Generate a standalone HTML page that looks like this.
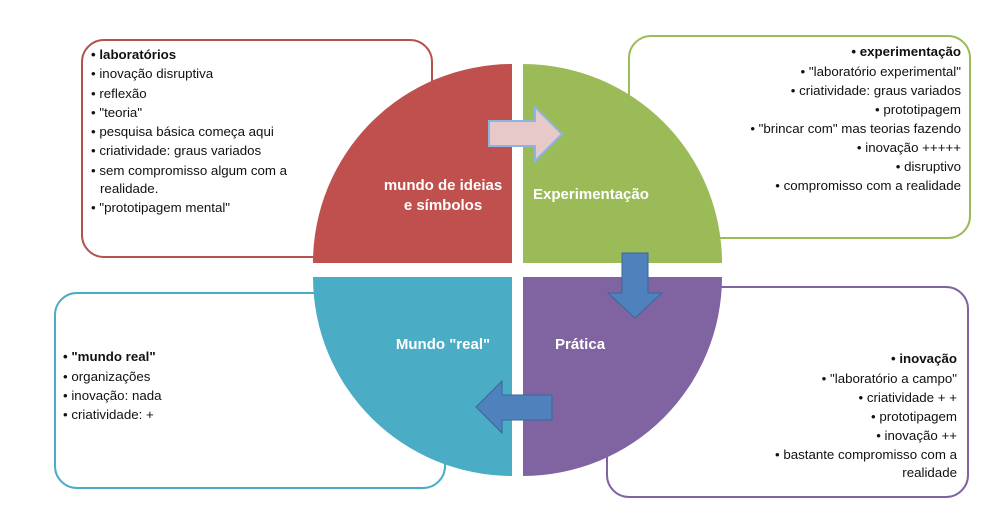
<!DOCTYPE html>
<html><head><meta charset="utf-8"><style>
html,body{margin:0;padding:0;background:#fff;}
svg text{font-family:"Liberation Sans",sans-serif;font-size:13.3px;fill:#111;}
svg .b{font-weight:bold;}
svg .w{fill:#fff;font-weight:bold;font-size:15px;}
</style></head><body>
<svg width="1000" height="500" viewBox="0 0 1000 500" xmlns="http://www.w3.org/2000/svg">
<rect x="82" y="40" width="350" height="217" rx="22" fill="#fff" stroke="#b5524f" stroke-width="2"/>
<rect x="629" y="36" width="341" height="202" rx="22" fill="#fff" stroke="#9bbb59" stroke-width="2"/>
<rect x="55" y="293" width="390" height="195" rx="22" fill="#fff" stroke="#4bacc6" stroke-width="2"/>
<rect x="607" y="287" width="361" height="210" rx="22" fill="#fff" stroke="#8064a2" stroke-width="2"/>
<path d="M512,263 L313,263 A199,199 0 0 1 512,64 Z" fill="#c0504d"/>
<path d="M523,263 L523,64 A199,199 0 0 1 722,263 Z" fill="#9bbb59"/>
<path d="M512,277 L512,476 A199,199 0 0 1 313,277 Z" fill="#4bacc6"/>
<path d="M523,277 L722,277 A199,199 0 0 1 523,476 Z" fill="#8064a2"/>
<path d="M489,121 L535,121 L535,107 L562,134 L535,161 L535,146 L489,146 Z" fill="#e6c9c8" stroke="#8eb4e3" stroke-width="2"/>
<path d="M622,253 L648,253 L648,293 L662,293 L635,318 L608,293 L622,293 Z" fill="#4f81bd" stroke="#3a6699" stroke-width="1"/>
<path d="M552,395 L552,420 L502,420 L502,433 L476,407 L502,381 L502,395 Z" fill="#4f81bd" stroke="#3a6699" stroke-width="1"/>
<text class="w" x="443" y="190" text-anchor="middle">mundo de ideias</text>
<text class="w" x="443" y="210" text-anchor="middle">e símbolos</text>
<text class="w" x="533" y="199">Experimentação</text>
<text class="w" x="443" y="349" text-anchor="middle">Mundo "real"</text>
<text class="w" x="555" y="349">Prática</text>
<g>
<text x="91" y="59" class="b">• laboratórios</text>
<text x="91" y="78">• inovação disruptiva</text>
<text x="91" y="98">• reflexão</text>
<text x="91" y="117">• "teoria"</text>
<text x="91" y="136">• pesquisa básica começa aqui</text>
<text x="91" y="155">• criatividade: graus variados</text>
<text x="91" y="175">• sem compromisso algum com a</text>
<text x="100" y="193">realidade.</text>
<text x="91" y="212">• "prototipagem mental"</text>
</g>
<g text-anchor="end">
<text x="961" y="56" class="b">• experimentação</text>
<text x="961" y="76">• "laboratório experimental"</text>
<text x="961" y="95">• criatividade: graus variados</text>
<text x="961" y="114">•  prototipagem</text>
<text x="961" y="133">• "brincar com" mas teorias fazendo</text>
<text x="961" y="152">• inovação +++++</text>
<text x="961" y="171">• disruptivo</text>
<text x="961" y="190">• compromisso com a realidade</text>
</g>
<g>
<text x="63" y="361" class="b">• "mundo real"</text>
<text x="63" y="381">• organizações</text>
<text x="63" y="400">• inovação: nada</text>
<text x="63" y="419">• criatividade: +</text>
</g>
<g text-anchor="end">
<text x="957" y="363" class="b">• inovação</text>
<text x="957" y="383">• "laboratório a campo"</text>
<text x="957" y="402">• criatividade + +</text>
<text x="957" y="421">• prototipagem</text>
<text x="957" y="440">• inovação ++</text>
<text x="957" y="459">• bastante compromisso com a</text>
<text x="957" y="477">realidade</text>
</g>
</svg>
</body></html>
